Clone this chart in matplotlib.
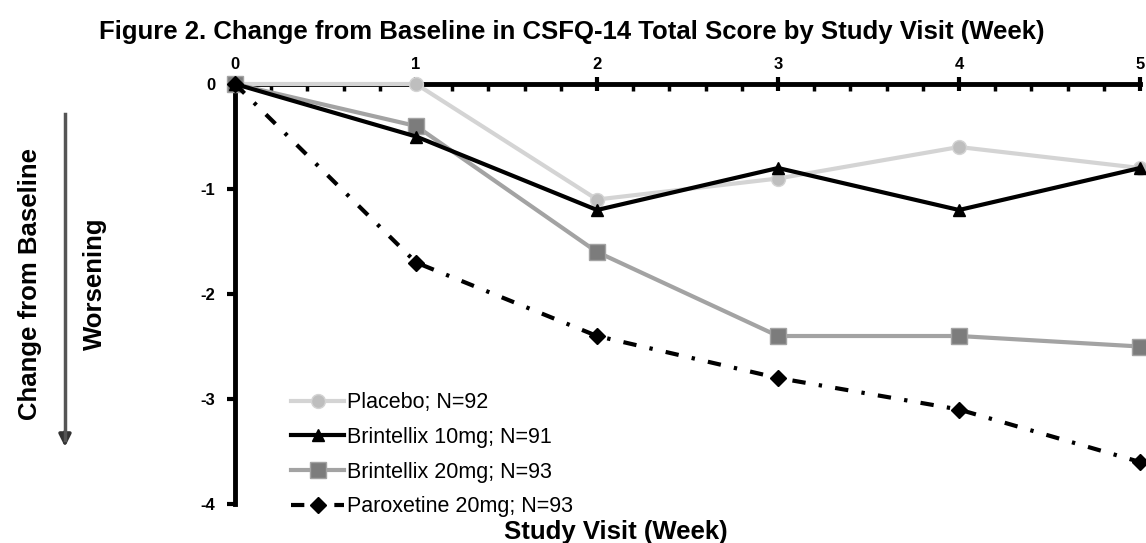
import matplotlib.pyplot as plt
import numpy as np

plt.rcParams['font.family'] = ['Liberation Sans', 'DejaVu Sans']
plt.rcParams['axes.unicode_minus'] = False

weeks = [0, 1, 2, 3, 4, 5]
placebo = [0, 0, -1.1, -0.9, -0.6, -0.8]
brin10 = [0, -0.5, -1.2, -0.8, -1.2, -0.8]
brin20 = [0, -0.4, -1.6, -2.4, -2.4, -2.5]
parox = [0, -1.7, -2.4, -2.8, -3.1, -3.6]
labels = ['Placebo; N=92', 'Brintellix 10mg; N=91',
          'Brintellix 20mg; N=93', 'Paroxetine 20mg; N=93']

fig = plt.figure(figsize=(11.46, 5.43), dpi=100)
ax = fig.add_axes([0.2051, 0.0718, 0.7897, 0.7735])

ax.plot(weeks, placebo, color='#d4d4d4', lw=3, marker='o', ms=10,
        mfc='#bebebe', mec='#d4d4d4', label=labels[0], clip_on=False, zorder=3)
ax.plot(weeks, brin20, color='#a3a3a3', lw=3, marker='s', ms=11,
        mfc='#7c7c7c', mec='#a3a3a3', label=labels[2], clip_on=False, zorder=4)
ax.plot(weeks, brin10, color='black', lw=3, marker='^', ms=9,
        label=labels[1], clip_on=False, zorder=5)
ax.plot(weeks, parox, color='black', lw=3, marker='D', ms=8,
        dashes=(3.2, 3.2, 0.8, 3.2), label=labels[3], clip_on=False, zorder=6)

ax.set_xlim(0, 5)
ax.set_ylim(-4, 0)
for s in ['bottom', 'right']:
    ax.spines[s].set_visible(False)
for s in ['top', 'left']:
    ax.spines[s].set_linewidth(3.5)

ax.xaxis.tick_top()
ax.set_xticks(weeks)
ax.set_xticks(np.arange(0, 5.01, 0.2), minor=True)
ax.tick_params(axis='x', which='major', direction='inout', length=10, width=3,
               labelsize=12, pad=4)
ax.tick_params(axis='x', which='minor', direction='in', length=5, width=2.5)
ax.set_yticks([0, -1, -2, -3, -4])
ax.tick_params(axis='y', direction='out', length=6, width=3, labelsize=12, pad=8)
for t in ax.get_xticklabels() + ax.get_yticklabels():
    t.set_fontweight('bold')

handles, labs = ax.get_legend_handles_labels()
order = [0, 2, 1, 3]
leg = ax.legend([handles[i] for i in order], [labs[i] for i in order],
                loc='lower left', bbox_to_anchor=(0.04, -0.078), frameon=False,
                fontsize=15.5, handlelength=2.5, handletextpad=0.1, labelspacing=0.64)

fig.text(0.499, 0.941, 'Figure 2. Change from Baseline in CSFQ-14 Total Score by Study Visit (Week)',
         ha='center', va='center', fontsize=18.5, fontweight='bold')
fig.text(0.537, 0.02, 'Study Visit (Week)', ha='center', va='center',
         fontsize=18.5, fontweight='bold')
fig.text(0.026, 0.477, 'Change from Baseline', rotation=90, ha='center', va='center',
         fontsize=18.5, fontweight='bold')
fig.text(0.083, 0.477, 'Worsening', rotation=90, ha='center', va='center',
         fontsize=18.5, fontweight='bold')
fig.add_artist(plt.Line2D([0.0567, 0.0567], [0.79, 0.19], color='#555555', lw=2.5))
ax.annotate('', xy=(0.0567, 0.172), xycoords='figure fraction',
            xytext=(0.0567, 0.21), textcoords='figure fraction',
            arrowprops=dict(arrowstyle='-|>', color='#333333', lw=2.5, mutation_scale=18))

fig.savefig('out.png', dpi=100)
